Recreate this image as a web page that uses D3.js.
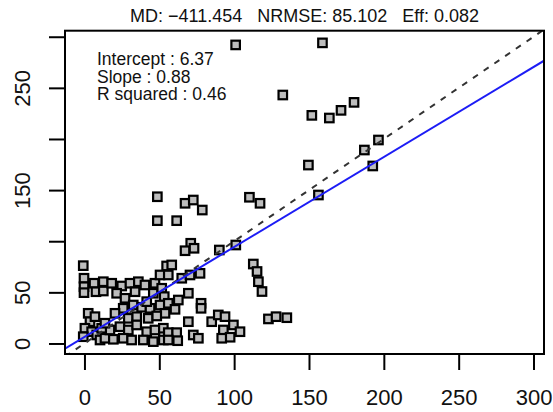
<!DOCTYPE html>
<html>
<head>
<meta charset="utf-8">
<script src="https://cdn.jsdelivr.net/npm/d3@7"></script>
<style>
  html, body { margin: 0; padding: 0; background: #fff; }
  svg { display: block; font-family: "Liberation Sans", Arial, sans-serif; }
</style>
</head>
<body>
<svg id="chart" width="553" height="412"></svg>
<script>
const obsX = [101,159,132.5,151.9,163.6,171.4,180.1,149.6,187,196.4,192.6,156.3,
  48.7,67.2,72.7,78.7,48.7,61.6,110.2,117.3,71,67.2,73.2,90.1,101.1,112.8,115.3,116.2,118.6,122.9,128,135.2,
  -0.8,-0.3,-0.3,-0.3,6.4,7.7,12.6,12.6,18.2,24.9,30.4,36,21.5,27.1,33.8,40.4,47.1,46,51.6,53.3,54.9,50.5,
  25.9,32.6,38.2,43.8,50.5,53.8,29.3,34.9,42.6,48.3,23.7,29.3,34.9,41.6,47.1,52.7,
  2.5,3.7,0.3,4.8,-0.8,8.2,10.4,13.7,19.3,25.9,31.5,39.3,46,52.7,17,11.5,7,
  58.3,56,65,70.5,77.2,69.4,62.7,56,60.5,77.9,77.9,69.4,85,89.4,93.9,99.5,103.9,92.8,97.3,91.7,72.7,76.1,
  56,61.6,56,62.3,41.6,20.4,13.7];
const simY = [292,294,243,223.1,220.5,228,235.8,174.5,189.2,199,173.6,145.2,
  143.5,137.1,140.3,130.5,120.1,120.1,143,137.1,98,90.7,93.1,91.4,96.3,77.7,70.4,60.4,50.8,24,26.2,25.2,
  76.1,63.8,55.5,49.7,58.9,50.6,60.4,51.3,58.9,56.2,58.9,60.4,49.1,44.2,50.6,57.2,58.9,49.1,54,45.8,75.8,67,
  34.4,37.6,35.4,34.4,37.6,29.5,24.6,26.2,24.6,26.9,16.4,13.2,18.1,11.5,13.2,14.9,
  29.5,21.3,14.9,11.5,6.6,8.3,3.4,5.1,4.1,5.1,3.4,3.4,1.8,3.4,13.2,14.9,26.2,
  76.8,67,63.8,67,68.6,49.1,42.5,39.3,33.4,39.3,34.4,21.3,21.3,27.9,26.2,18.1,11.5,13.2,6.1,5.1,8.3,5.1,
  10.6,10.6,3.4,2.7,40.9,29.5,19.8];

const xTicks = [0, 50, 100, 150, 200, 250, 300];
const yTicks = [0, 50, 100, 150, 200, 250, 300];
const yTickLabels = ["0", "50", "", "150", "", "250", ""];

const titleText = "MD: \u2212411.454   NRMSE: 85.102   Eff: 0.082";
const statLabels = ["Intercept : 6.37", "Slope : 0.88", "R squared : 0.46"];

// reference lines: [intercept, slope]
const oneToOne = [0, 1];
const fitLine = [6.37, 0.88];

const svg = d3.select("#chart");
const L = 65, R = 544, T = 30.7, B = 354;
const x = d3.scaleLinear().domain([-13, 307]).range([L, R]);
const y = d3.scaleLinear().domain([-10.3, 305.9]).range([B, T]);

svg.append("defs").append("clipPath").attr("id", "plotclip")
  .append("rect").attr("x", L).attr("y", T).attr("width", R - L).attr("height", B - T);

// points
svg.append("g").selectAll("rect").data(obsX.map((v, i) => [v, simY[i]])).join("rect")
  .attr("x", d => x(d[0]) - 4.25).attr("y", d => y(d[1]) - 4.25)
  .attr("width", 8.5).attr("height", 8.5)
  .attr("fill", "#bdbdbd").attr("stroke", "#000").attr("stroke-width", 2.2);

// lines
const lineG = svg.append("g").attr("clip-path", "url(#plotclip)");
const xd = x.domain();
lineG.append("line")
  .attr("x1", x(xd[0])).attr("y1", y(oneToOne[0] + oneToOne[1] * xd[0]))
  .attr("x2", x(xd[1])).attr("y2", y(oneToOne[0] + oneToOne[1] * xd[1]))
  .attr("stroke", "#333").attr("stroke-width", 2).attr("stroke-dasharray", "6,7");
lineG.append("line")
  .attr("x1", x(xd[0])).attr("y1", y(fitLine[0] + fitLine[1] * xd[0]))
  .attr("x2", x(xd[1])).attr("y2", y(fitLine[0] + fitLine[1] * xd[1]))
  .attr("stroke", "#1c1cf5").attr("stroke-width", 2);

// box
svg.append("rect").attr("x", L).attr("y", T).attr("width", R - L).attr("height", B - T)
  .attr("fill", "none").attr("stroke", "#000").attr("stroke-width", 2);

// axes
const xAxis = svg.append("g").attr("transform", `translate(0,${B})`)
  .call(d3.axisBottom(x).tickValues(xTicks).tickSize(16).tickPadding(19).tickFormat(d3.format("d")));
const yAxis = svg.append("g").attr("transform", `translate(${L},0)`)
  .call(d3.axisLeft(y).tickValues(yTicks).tickSize(16).tickPadding(0).tickFormat((d, i) => yTickLabels[i]));
[xAxis, yAxis].forEach(g => {
  g.select(".domain").remove();
  g.selectAll(".tick line").attr("stroke", "#000").attr("stroke-width", 2);
  g.selectAll("text").attr("fill", "#111").style("font-size", "22px")
    .style("font-family", "'Liberation Sans', Arial, sans-serif");
});
yAxis.selectAll("text")
  .attr("x", null).attr("dy", null)
  .attr("text-anchor", "middle")
  .attr("transform", "translate(-35,0) rotate(-90)");

// title
svg.append("text").attr("x", (L + R) / 2).attr("y", 22).attr("text-anchor", "middle")
  .attr("fill", "#111").style("font-size", "18px").style("white-space", "pre")
  .attr("xml:space", "preserve").text(titleText);

// stats
svg.append("g").selectAll("text").data(statLabels).join("text")
  .attr("x", 97).attr("y", (d, i) => 65 + i * 17.5)
  .attr("fill", "#111").style("font-size", "17.5px").text(d => d);
</script>
</body>
</html>
